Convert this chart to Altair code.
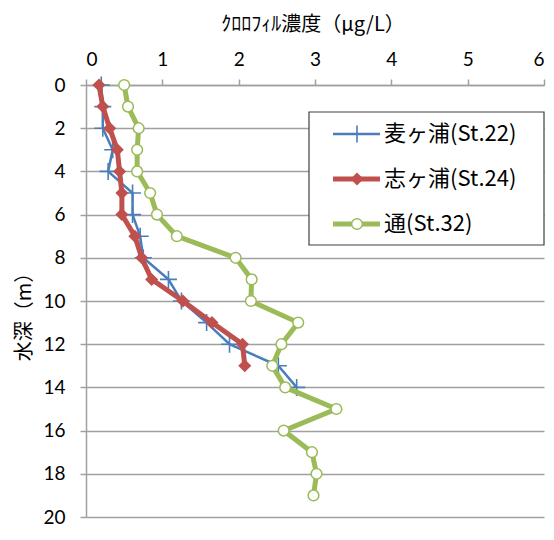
import altair as alt
import pandas as pd

series = ["麦ヶ浦(St.22)", "志ヶ浦(St.24)", "通(St.32)"]
colors = ["#4A7EBB", "#C0504D", "#9BBB59"]

depth_st22 = list(range(0, 15))
chl_st22 = [0.20, 0.22, 0.22, 0.35, 0.29, 0.61, 0.61, 0.71, 0.75, 1.08, 1.25, 1.58, 1.88, 2.52, 2.76]
depth_st24 = list(range(0, 14))
chl_st24 = [0.17, 0.22, 0.31, 0.41, 0.44, 0.47, 0.47, 0.64, 0.73, 0.86, 1.27, 1.65, 2.05, 2.08]
depth_st32 = list(range(0, 20))
chl_st32 = [0.50, 0.55, 0.69, 0.67, 0.67, 0.84, 0.93, 1.19, 1.96, 2.17, 2.16, 2.78, 2.56, 2.44,
            2.61, 3.28, 2.59, 2.96, 3.02, 2.98]

x_ticks = [0, 1, 2, 3, 4, 5, 6]
y_ticks = [0, 2, 4, 6, 8, 10, 12, 14, 16, 18, 20]
x_title = "ｸﾛﾛﾌｨﾙ濃度（μg/L）"
y_title = "水深（m）"

GRAY = "#A0A0A0"
JP = "Noto Sans CJK JP"

def df(depths, vals, name):
    return pd.DataFrame({"depth": depths, "chl": vals, "series": name})

d22 = df(depth_st22, chl_st22, series[0])
d24 = df(depth_st24, chl_st24, series[1])
d32 = df(depth_st32, chl_st32, series[2])

x_enc = alt.X(
    "chl:Q",
    scale=alt.Scale(domain=[0, 6], nice=False, zero=True),
    axis=alt.Axis(
        orient="top", values=x_ticks, grid=False, title=None,
        domainColor=GRAY, domainWidth=1.5, tickColor=GRAY, tickWidth=1.5, tickSize=6,
        labelFont="Lato", labelFontSize=19, labelColor="black", labelPadding=10,
    ),
)
y_enc = alt.Y(
    "depth:Q",
    scale=alt.Scale(domain=[0, 20], nice=False, reverse=True),
    axis=alt.Axis(
        orient="left", values=y_ticks, grid=True, gridColor=GRAY, gridWidth=1.5, title=None,
        domainColor=GRAY, domainWidth=1.5, tickColor=GRAY, tickWidth=1.5, tickSize=6,
        labelFont="Lato", labelFontSize=19, labelColor="black", labelPadding=15,
    ),
)

CROSS = "M-1,0L1,0M0,-1L0,1"

def series_layers(data, color, lw, point_kwargs):
    line = alt.Chart(data).mark_line(color=color, strokeWidth=lw).encode(
        x=x_enc, y=y_enc, order="depth:Q")
    pts = alt.Chart(data).mark_point(opacity=1, **point_kwargs).encode(x=x_enc, y=y_enc)
    return [line, pts]

pk = [
    dict(shape=CROSS, filled=False, stroke=colors[0], strokeWidth=1.6, size=289),
    dict(shape="diamond", filled=True, fill=colors[1], stroke=colors[1], strokeWidth=0, size=170),
    dict(shape="circle", filled=True, fill="white", stroke=colors[2], strokeWidth=1.5, size=115),
]
lws = [2.5, 5, 5]

layers = []
layers += series_layers(d22, colors[0], lws[0], pk[0])
layers += series_layers(d24, colors[1], lws[1], pk[1])
layers += series_layers(d32, colors[2], lws[2], pk[2])

one = pd.DataFrame({"k": [0]})

# axis titles
layers.append(alt.Chart(pd.DataFrame({"t": [x_title]})).mark_text(
    font=JP, fontSize=20, color="black", align="center", baseline="middle").encode(
    x=alt.value(227), y=alt.value(-60), text="t:N"))
layers.append(alt.Chart(pd.DataFrame({"t": [y_title]})).mark_text(
    font=JP, fontSize=20, fontWeight="normal", color="black", align="center",
    baseline="middle", angle=270).encode(
    x=alt.value(-61), y=alt.value(227), text="t:N"))

# legend
layers.append(alt.Chart(one).mark_rect(fill="white", stroke="#404040", strokeWidth=1.2).encode(
    x=alt.value(223), x2=alt.value(458), y=alt.value(27), y2=alt.value(160)))
for i, name in enumerate(series):
    yy = 49 + 45 * i
    layers.append(alt.Chart(one).mark_rule(color=colors[i], strokeWidth=lws[i]).encode(
        x=alt.value(247), x2=alt.value(294), y=alt.value(yy)))
    layers.append(alt.Chart(one).mark_point(opacity=1, **pk[i]).encode(
        x=alt.value(271), y=alt.value(yy)))
    layers.append(alt.Chart(pd.DataFrame({"label": [name]})).mark_text(
        font=JP, fontSize=22, color="black", align="left", baseline="middle").encode(
        x=alt.value(298), y=alt.value(yy), text="label:N"))

chart = alt.layer(*layers).properties(
    width=458, height=432,
    padding={"left": 78, "top": 77, "right": 2, "bottom": 9},
    autosize="none", background="white",
).configure_view(stroke=None)

chart.save("out.html", embed_options={"renderer": "svg", "actions": False})
